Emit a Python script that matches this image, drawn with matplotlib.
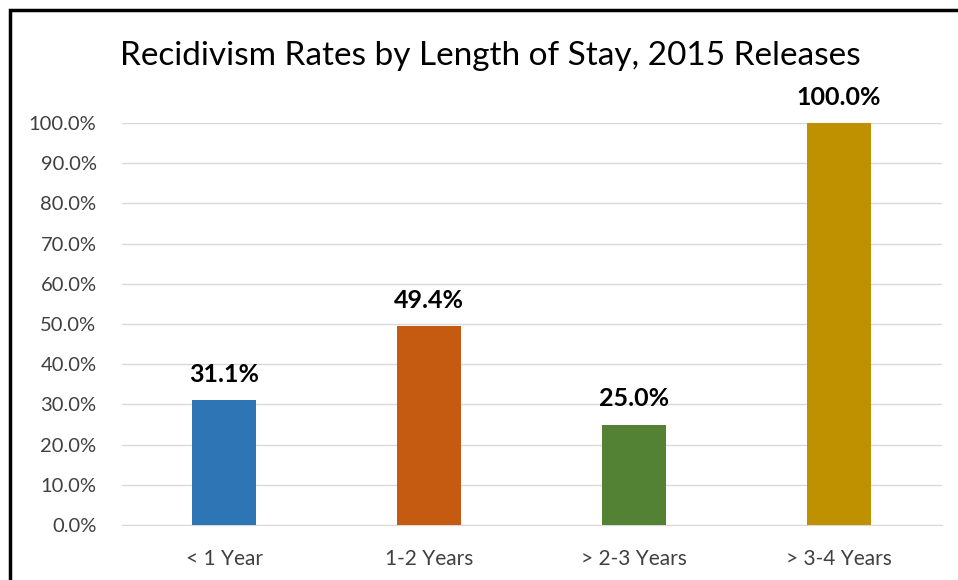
import matplotlib.pyplot as plt
from matplotlib.patches import Rectangle

plt.rcParams['font.family'] = ['Lato', 'DejaVu Sans']

categories = ['< 1 Year', '1-2 Years', '> 2-3 Years', '> 3-4 Years']
rates = [31.1, 49.4, 25.0, 100.0]
colors = ['#2E75B6', '#C55A11', '#548235', '#BF9000']

W, H = 958, 580
fig = plt.figure(figsize=(W / 100, H / 100), dpi=100)
ax = fig.add_axes([121.5 / W, 1 - 525 / H, (941.5 - 121.5) / W, (525 - 123) / H])

x = range(len(categories))
ax.bar(x, rates, width=0.31, color=colors, zorder=3)
for i, v in enumerate(rates):
    ax.text(i, v + 3.5, f'{v:.1f}%', ha='center', va='bottom', fontsize=18,
            fontweight='bold', color='black', clip_on=False)

ax.set_xlim(-0.5, len(categories) - 0.5)
ax.set_ylim(0, 100)
ax.set_yticks(range(0, 101, 10))
ax.set_yticklabels([f'{t:.1f}%' for t in range(0, 101, 10)])
ax.set_xticks(list(x))
ax.set_xticklabels(categories)
ax.tick_params(axis='both', length=0, labelcolor='#404040')
ax.tick_params(axis='y', pad=18, labelsize=14.5)
ax.tick_params(axis='x', pad=17, labelsize=15)
ax.grid(axis='y', color='#D9D9D9', linewidth=1, zorder=0)
ax.set_axisbelow(True)
for s in ['top', 'right', 'left']:
    ax.spines[s].set_visible(False)
ax.spines['bottom'].set_color('#D9D9D9')

fig.text(490 / W, 1 - 56 / H, 'Recidivism Rates by Length of Stay, 2015 Releases',
         ha='center', va='center', fontsize=24, color='black')

# outer frame
fig.patches.append(Rectangle((10 / W, -0.1), 1.1, 1 - 10 / H + 0.1, transform=fig.transFigure,
                             fill=False, edgecolor='black', linewidth=2.5))

fig.savefig('out.png', dpi=100)
